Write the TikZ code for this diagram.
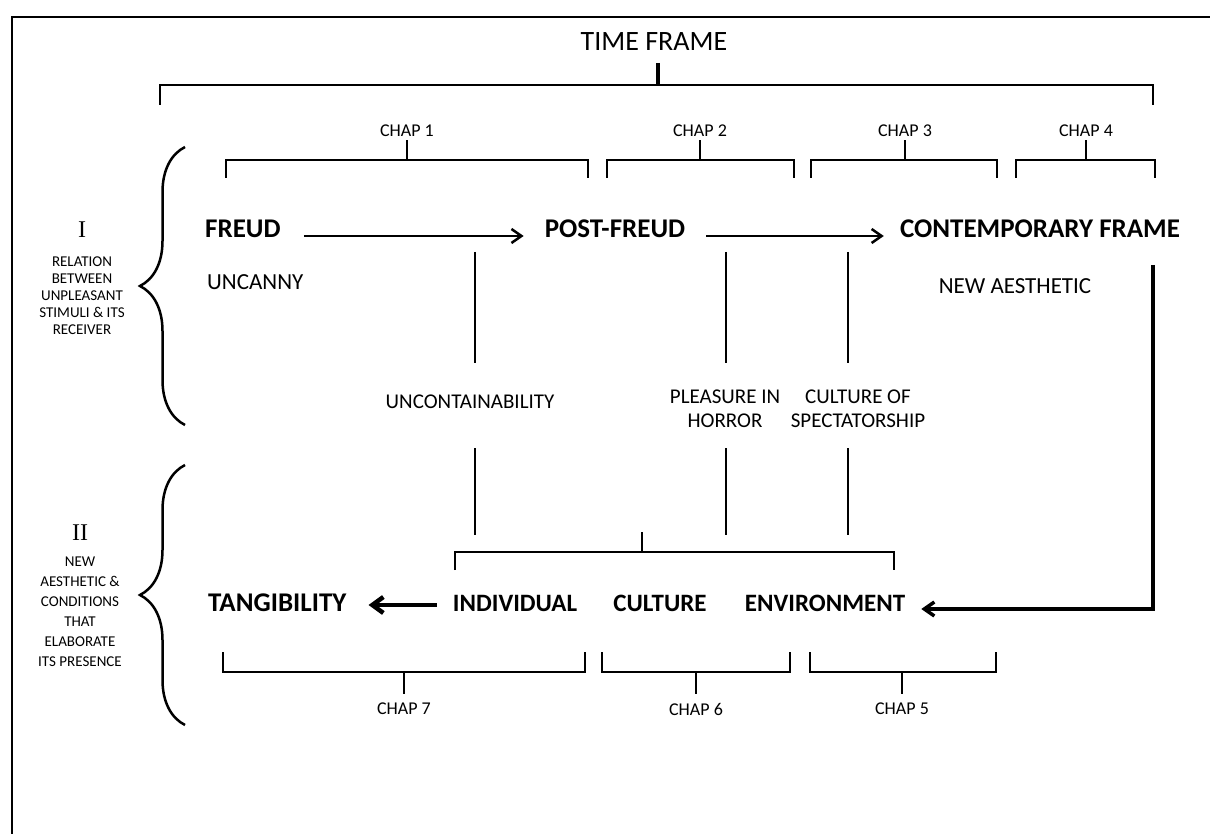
\documentclass[tikz,border=0pt]{standalone}
\usepackage{fontspec}
\setmainfont{Carlito}
\newfontfamily\romanfont{Liberation Serif}
\usetikzlibrary{arrows.meta,decorations.pathreplacing}

\tikzset{
  lbl/.style={inner sep=0pt},
  title/.style={lbl,font=\fontsize{28}{28}\selectfont},
  heading/.style={lbl,font=\fontsize{27}{27}\selectfont\bfseries},
  term/.style={lbl,font=\fontsize{25}{25}\selectfont\bfseries},
  theme/.style={lbl,font=\fontsize{23}{23}\selectfont},
  motif/.style={lbl,font=\fontsize{21}{24}\selectfont,align=center},
  chaplbl/.style={lbl,font=\fontsize{18}{18}\selectfont},
  part/.style={lbl,font=\romanfont\fontsize{24}{24}\selectfont},
  partdesc/.style={lbl,font=\fontsize{15}{17}\selectfont,align=center},
  bracket/.style={line width=1.3pt},
  curly/.style={line width=2.5pt,decorate,decoration={brace,amplitude=45pt}},
  arr/.style={-{Straight Barb[length=10pt,width=14pt]},line width=2.5pt},
}

\begin{document}
\begin{tikzpicture}[x=1pt,y=-1pt]
  \useasboundingbox (0,0) rectangle (1210,834);
  \clip (0,0) rectangle (1210,834);
  % page frame
  \draw[line width=2.5pt] (12,850) -- (12,17) -- (1225,17);

  % time frame
  \node[title] (time) at (654,42) {TIME FRAME};
  \draw[line width=2.5pt] (160,105) -- (160,85) -- (1153,85) -- (1153,105);
  \draw[line width=4pt] (658,63) -- (658,85);

  % chapters above
  \foreach \l/\r/\c/\n in {226/588/407/1, 607/794/700/2, 811/997/905/3, 1016/1155/1086/4} {
    \node[chaplbl] (chap\n) at (\c,131) {CHAP \n};
    \draw[bracket] (\l,178) -- (\l,160) -- (\r,160) -- (\r,178);
    \draw[bracket] ([yshift=-3pt]chap\n.south) -- (\c,160);
  }

  % part I
  \node[part] (one) at (82,230) {I};
  \node[partdesc] (onedesc) at (82,296) {RELATION\\BETWEEN\\UNPLEASANT\\STIMULI \& ITS\\RECEIVER};
  \draw[curly] (185,425) -- (185,147);

  % part II
  \node[part] (two) at (80,533) {II};
  \node[partdesc,font=\fontsize{15}{20}\selectfont] (twodesc) at (80,612) {NEW\\AESTHETIC \&\\CONDITIONS\\THAT\\ELABORATE\\ITS PRESENCE};
  \draw[curly] (185,725) -- (185,465);

  % upper row
  \node[heading,anchor=west] (freud) at (205,229) {FREUD};
  \node[heading] (post) at (615,229) {POST-FREUD};
  \node[heading] (contemp) at (1040,229) {CONTEMPORARY FRAME};
  \node[theme,anchor=west] (uncanny) at (207,282) {UNCANNY};
  \node[theme] (newaes) at (1015,286) {NEW AESTHETIC};

  \draw[arr,shorten <=23pt,shorten >=21pt] ([yshift=-7pt]freud.east) -- ([yshift=-7pt]post.west);
  \draw[arr,shorten <=21pt,shorten >=16pt] ([yshift=-7pt]post.east) -- ([yshift=-7pt]contemp.west);

  % motifs
  \node[motif] (uncont) at (470,402) {UNCONTAINABILITY};
  \node[motif] (pleasure) at (725,409) {PLEASURE IN\\HORROR};
  \node[motif] (spect) at (858,409) {CULTURE OF\\SPECTATORSHIP};
  \foreach \x in {475,726,848} {
    \draw[bracket] (\x,252) -- (\x,363);
    \draw[bracket] (\x,448) -- (\x,535);
  }
  \draw[bracket] (455,570) -- (455,552) -- (894,552) -- (894,570);
  \draw[bracket] (642,532) -- (642,552);

  % lower row
  \node[heading,anchor=west] (tang) at (208,603) {TANGIBILITY};
  \node[term] (indiv) at (515,603) {INDIVIDUAL};
  \node[term] (cult) at (660,603) {CULTURE};
  \node[term] (env) at (825,603) {ENVIRONMENT};

  \coordinate (turn) at (1153,265);
  \draw[arr,line width=3.5pt,shorten >=16pt] (turn) |- ([yshift=-6pt]env.east);
  \draw[arr,-{Straight Barb[length=11pt,width=16pt]},line width=4.5pt,shorten <=16pt,shorten >=22pt] ([yshift=-2pt]indiv.west) -- ([yshift=-2pt]tang.east);

  % chapters below
  \foreach \l/\r/\c/\n in {223/585/404/7, 602/790/696/6, 810/996/902/5} {
    \draw[bracket] (\l,652) -- (\l,672) -- (\r,672) -- (\r,652);
    \node[chaplbl] (chap\n) at (\c,709) {CHAP \n};
    \draw[bracket] (\c,672) -- ([yshift=9pt]chap\n.north);
  }
\end{tikzpicture}
\end{document}
